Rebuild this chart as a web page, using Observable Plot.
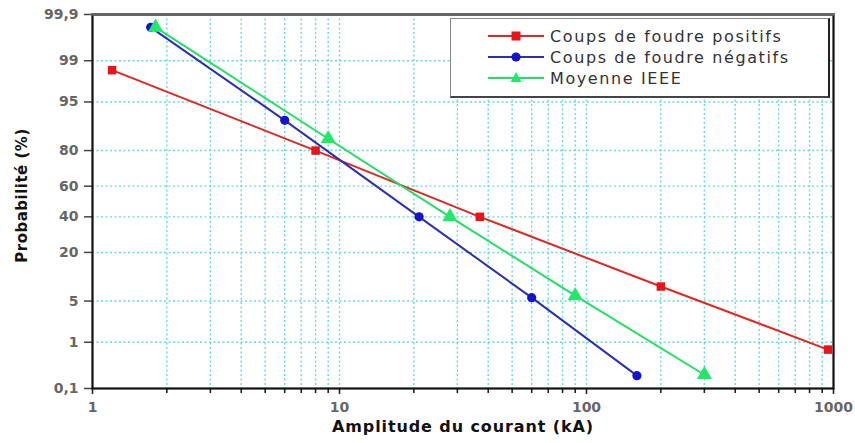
<!DOCTYPE html>
<html>
<head>
<meta charset="utf-8">
<script src="https://cdn.jsdelivr.net/npm/d3@7"></script>
<script src="https://cdn.jsdelivr.net/npm/@observablehq/plot@0.6"></script>
<style>
  body { margin: 0; background: #fff; }
  #chart { position: relative; width: 855px; height: 443px; font-family: "DejaVu Sans", sans-serif; }
  #legend { position: absolute; left: 450px; top: 18px; width: 380px; height: 80px; background: #fff;
            border-top: 1px solid #888; border-left: 1px solid #888; border-bottom: 2px solid #444; border-right: 2px solid #222;
            box-sizing: border-box; }
  .item { position: absolute; left: 0; height: 20px; display: flex; align-items: center; }
  .item svg { margin-left: 37px; }
  .item span { margin-left: 6px; font-size: 16px; letter-spacing: 1.6px; color: #333; white-space: nowrap; }
</style>
</head>
<body>
<div id="chart"></div>
<script>
// ---- data ----
const seriesNames = ["Coups de foudre positifs", "Coups de foudre négatifs", "Moyenne IEEE"];
const seriesColors = ["#e02626", "#2e2eb0", "#22de66"];
const seriesMarkerColors = ["#e8141c", "#1414d0", "#22e86a"];
const seriesSymbols = ["square", "circle", "triangle"];

const positifsX = [1.2, 8, 37, 200, 950];
const positifsP = [98.5, 80, 40, 8, 0.72];
const negatifsX = [1.72, 6, 21, 60, 160];
const negatifsP = [99.8, 91, 40, 5.6, 0.2];
const ieeeX = [1.8, 9, 28, 90, 300];
const ieeeP = [99.8, 85, 40, 6.0, 0.21];

const yTicks = [0.1, 1, 5, 20, 40, 60, 80, 95, 99, 99.9];
const yGrid = [1, 5, 20, 40, 60, 80, 95, 99];
const xMajor = [1, 10, 100, 1000];
const xGrid = [2, 3, 4, 5, 6, 7, 8, 9, 10, 20, 30, 40, 50, 60, 70, 80, 90, 100, 200, 300, 400, 500, 600, 700, 800, 900];
const xMinor = [2, 3, 4, 5, 6, 7, 8, 9, 20, 30, 40, 50, 60, 70, 80, 90, 200, 300, 400, 500, 600, 700, 800, 900];

const xLabel = "Amplitude du courant (kA)";
const yLabel = "Probabilité (%)";

// ---- inverse normal CDF (Acklam) for the probability axis ----
function probit(p) {
  const a = [-3.969683028665376e+01, 2.209460984245205e+02, -2.759285104469687e+02, 1.383577518672690e+02, -3.066479806614716e+01, 2.506628277459239e+00];
  const b = [-5.447609879822406e+01, 1.615858368580409e+02, -1.556989798598866e+02, 6.680131188771972e+01, -1.328068155288572e+01];
  const c = [-7.784894002430293e-03, -3.223964580411365e-01, -2.400758277161838e+00, -2.549732539343734e+00, 4.374664141464968e+00, 2.938163982698783e+00];
  const d = [7.784695709041462e-03, 3.224671290700398e-01, 2.445134137142996e+00, 3.754408661907416e+00];
  const pl = 0.02425, ph = 1 - pl;
  let q, r;
  if (p < pl) {
    q = Math.sqrt(-2 * Math.log(p));
    return (((((c[0]*q+c[1])*q+c[2])*q+c[3])*q+c[4])*q+c[5]) / ((((d[0]*q+d[1])*q+d[2])*q+d[3])*q+1);
  } else if (p <= ph) {
    q = p - 0.5; r = q*q;
    return (((((a[0]*r+a[1])*r+a[2])*r+a[3])*r+a[4])*r+a[5])*q / (((((b[0]*r+b[1])*r+b[2])*r+b[3])*r+b[4])*r+1);
  } else {
    q = Math.sqrt(-2 * Math.log(1 - p));
    return -(((((c[0]*q+c[1])*q+c[2])*q+c[3])*q+c[4])*q+c[5]) / ((((d[0]*q+d[1])*q+d[2])*q+d[3])*q+1);
  }
}
const z = pct => probit(pct / 100);

const rows = [];
[[positifsX, positifsP], [negatifsX, negatifsP], [ieeeX, ieeeP]].forEach(([xs, ps], i) => {
  xs.forEach((x, j) => rows.push({series: seriesNames[i], x, p: ps[j]}));
});

const yLabelMap = new Map(yTicks.map(p => [z(p), String(p).replace(".", ",")]));

const marks = [
  Plot.gridX(xGrid, {stroke: "#66dada", strokeOpacity: 1, strokeWidth: 1.4, strokeDasharray: "2,2.5"}),
  Plot.gridY(yGrid.map(z), {stroke: "#66dada", strokeOpacity: 1, strokeWidth: 1.4, strokeDasharray: "2,2.5"}),
  Plot.axisY(yTicks.map(z), {tickSize: 8, tickPadding: 6, tickFormat: v => yLabelMap.get(v), label: null,
    fontSize: 14, fontWeight: "bold", fill: "#666", stroke: "#444", strokeWidth: 1.5}),
  Plot.axisX(xMinor, {tickSize: 5, tickFormat: () => "", label: null, stroke: "#222", strokeWidth: 1.6}),
  Plot.axisX(xMajor, {tickSize: 6, tickPadding: 8, tickFormat: d => String(d), label: null,
    fontSize: 14, fontWeight: "bold", fill: "#666", stroke: "#222", strokeWidth: 1.6}),
  Plot.frame({stroke: "#111", strokeWidth: 2.2}),
  Plot.frame({anchor: "top", stroke: "#666", strokeWidth: 2.4})
];
seriesNames.forEach((name, i) => {
  const data = rows.filter(r => r.series === name);
  marks.push(Plot.line(data, {x: "x", y: d => z(d.p), stroke: seriesColors[i], strokeWidth: 2}));
});
seriesNames.forEach((name, i) => {
  const data = rows.filter(r => r.series === name);
  marks.push(Plot.dot(data, {x: "x", y: d => z(d.p), symbol: seriesSymbols[i], fill: seriesMarkerColors[i],
    stroke: "none", r: i === 0 ? 4.8 : i === 1 ? 4.6 : 5.6}));
});
marks.push(Plot.text([yLabel], {frameAnchor: "left", textAnchor: "middle", rotate: -90, dx: -70, dy: -6, fontSize: 15, fontWeight: "bold", fill: "#111"}));
marks.push(Plot.text([xLabel], {frameAnchor: "bottom", dy: 43, fontSize: 16, fontWeight: "bold", fill: "#111"}));

const chart = Plot.plot({
  width: 855,
  height: 443,
  marginLeft: 92,
  marginRight: 22,
  marginTop: 14,
  marginBottom: 55,
  style: {fontFamily: "DejaVu Sans, sans-serif", background: "#fff"},
  x: {type: "log", domain: [1, 1000]},
  y: {domain: [z(0.1), z(99.9)]},
  marks
});

const root = document.getElementById("chart");
root.appendChild(chart);
d3.select(chart).selectAll("text").filter(function() { return this.textContent === xLabel; }).style("letter-spacing", "0.9px");
d3.select(chart).selectAll("text").filter(function() { return this.textContent === yLabel; }).style("letter-spacing", "0.5px");

// legend (HTML overlay)
const legend = document.createElement("div");
legend.id = "legend";
const rowTops = [7, 28, 49];
seriesNames.forEach((name, i) => {
  const item = document.createElement("div");
  item.className = "item";
  item.style.top = rowTops[i] + "px";
  const shape = i === 0 ? `<rect x="23.5" y="5.5" width="9" height="9" fill="${seriesMarkerColors[i]}"/>`
    : i === 1 ? `<circle cx="28" cy="10" r="4.6" fill="${seriesMarkerColors[i]}"/>`
    : `<polygon points="28,4 33.5,14 22.5,14" fill="${seriesMarkerColors[i]}"/>`;
  item.innerHTML = `<svg width="56" height="20"><line x1="0" y1="10" x2="56" y2="10" stroke="${seriesColors[i]}" stroke-width="2"/>${shape}</svg><span>${name}</span>`;
  legend.appendChild(item);
});
root.appendChild(legend);
</script>
</body>
</html>
